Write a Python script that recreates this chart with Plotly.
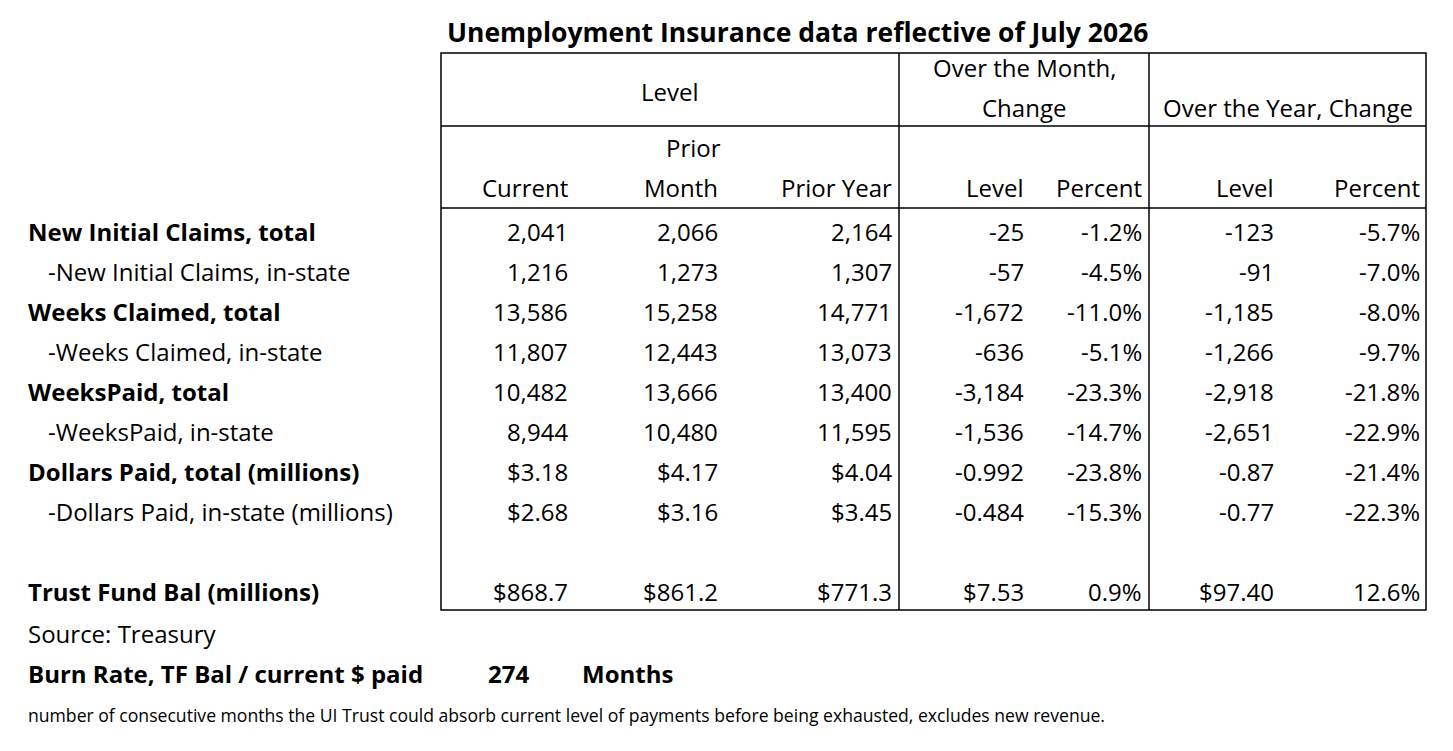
import plotly.graph_objects as go

# ---------------- TABLE DATA -----------------------------
rows = [
    ('New Initial Claims, total', True, ['2,041', '2,066', '2,164', '-25', '-1.2%', '-123', '-5.7%']),
    ('-New Initial Claims, in-state', False, ['1,216', '1,273', '1,307', '-57', '-4.5%', '-91', '-7.0%']),
    ('Weeks Claimed, total', True, ['13,586', '15,258', '14,771', '-1,672', '-11.0%', '-1,185', '-8.0%']),
    ('-Weeks Claimed, in-state', False, ['11,807', '12,443', '13,073', '-636', '-5.1%', '-1,266', '-9.7%']),
    ('WeeksPaid, total', True, ['10,482', '13,666', '13,400', '-3,184', '-23.3%', '-2,918', '-21.8%']),
    ('-WeeksPaid, in-state', False, ['8,944', '10,480', '11,595', '-1,536', '-14.7%', '-2,651', '-22.9%']),
    ('Dollars Paid, total (millions)', True, ['$3.18', '$4.17', '$4.04', '-0.992', '-23.8%', '-0.87', '-21.4%']),
    ('-Dollars Paid, in-state (millions)', False, ['$2.68', '$3.16', '$3.45', '-0.484', '-15.3%', '-0.77', '-22.3%']),
    (None, False, None),
    ('Trust Fund Bal (millions)', True, ['$868.7', '$861.2', '$771.3', '$7.53', '0.9%', '$97.40', '12.6%']),
]
col_right = [570, 720, 894, 1026, 1144, 1276, 1422]
col_heads = ['Current', 'Month', 'Prior Year', 'Level', 'Percent', 'Level', 'Percent']
row_y0, row_h = 232, 40

FONT = 'Open Sans'
SZ = 24
ann = []


def txt(x, y, s, anchor='left', bold=False, size=SZ):
    ann.append(dict(x=x, y=y, text='<b>%s</b>' % s if bold else s, xanchor=anchor,
                    yanchor='middle', showarrow=False, font=dict(family=FONT, size=size, color='black')))


txt(797, 33, 'Unemployment Insurance data reflective of July 2026', 'center', True, 26.5)
txt(670, 92, 'Level', 'center')
txt(1024, 68, 'Over the Month,', 'center')
txt(1024, 108, 'Change', 'center')
txt(1288, 108, 'Over the Year, Change', 'center')
txt(693, 148, 'Prior', 'center')
for x, h in zip(col_right, col_heads):
    txt(x, 188, h, 'right')

for i, (label, bold, vals) in enumerate(rows):
    y = row_y0 + i * row_h
    if label is None:
        continue
    txt(26 if bold else 46, y, label, bold=bold)
    for x, v in zip(col_right, vals):
        txt(x, y, v, 'right')

txt(26, 634, 'Source: Treasury')
txt(26, 674, 'Burn Rate, TF Bal / current $ paid', bold=True)
txt(508, 674, '274', 'center', True)
txt(580, 674, 'Months', bold=True)
txt(26, 716, 'number of consecutive months the UI Trust could absorb current level of payments before being exhausted, excludes new revenue.', size=17.6)

# ---------------- GRID LINES -----------------------------
line = dict(color='black', width=1.5)
shapes = [dict(type='rect', x0=441, x1=1426, y0=54, y1=611, line=line)]
for x in [899, 1149]:
    shapes.append(dict(type='line', x0=x, x1=x, y0=54, y1=611, line=line))
for y in [127, 209]:
    shapes.append(dict(type='line', x0=441, x1=1426, y0=y, y1=y, line=line))

fig = go.Figure()
fig.update_layout(
    width=1453, height=751, margin=dict(l=0, r=0, t=0, b=0),
    paper_bgcolor='white', plot_bgcolor='white',
    # offset ranges to cancel the page's body margin
    xaxis=dict(range=[8, 1461], visible=False, fixedrange=True),
    yaxis=dict(range=[760, 9], visible=False, fixedrange=True),
    annotations=ann, shapes=shapes, showlegend=False,
)
fig.write_html('out.html')
